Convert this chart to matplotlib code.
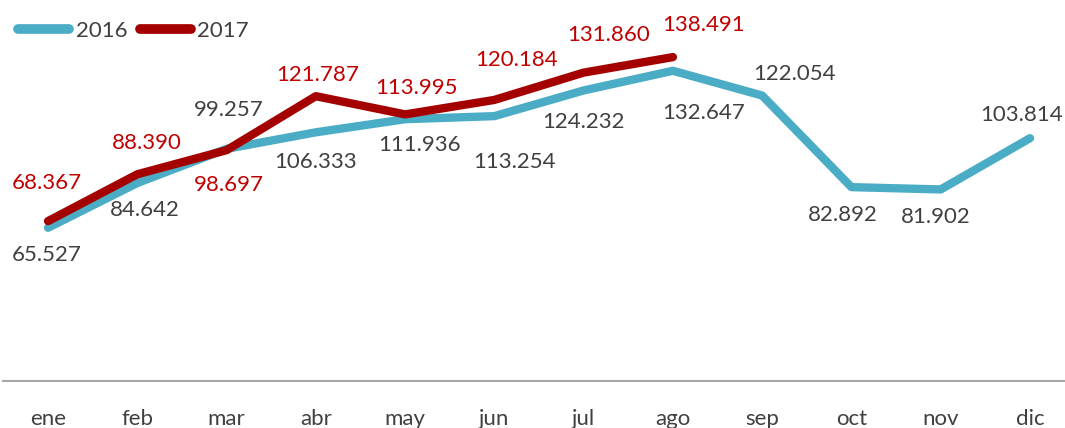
import matplotlib.pyplot as plt
from matplotlib.lines import Line2D

months = ['ene', 'feb', 'mar', 'abr', 'may', 'jun', 'jul', 'ago', 'sep', 'oct', 'nov', 'dic']
v2016 = [65.527, 84.642, 99.257, 106.333, 111.936, 113.254, 124.232, 132.647, 122.054, 82.892, 81.902, 103.814]
v2017 = [68.367, 88.390, 98.697, 121.787, 113.995, 120.184, 131.860, 138.491]

# label offsets in pixels (dx, dy up)
off2016 = [(-1, -27), (8, -27), (2, 39), (0, -30), (14, -26), (20, -46),
           (0, -32), (31, -42), (32, 22), (-9, -28), (-5, -28), (-8, 23)]
off2017 = [(-1, 38), (10, 31), (2, -35), (2, 21), (11, 26), (22, 40), (25, 38), (31, 32)]

blue = '#4BACC6'
red = '#A50000'
plt.rcParams['font.family'] = ['Lato', 'DejaVu Sans']

fig = plt.figure(figsize=(10.65, 4.28), dpi=100)
ax = fig.add_axes([3.4 / 1065, 47 / 428, 1071.2 / 1065, 374.2 / 428])

x16 = list(range(len(v2016)))
x17 = list(range(len(v2017)))
ax.plot(x16, v2016, color=blue, lw=6, solid_capstyle='round', solid_joinstyle='round', zorder=2)
ax.plot(x17, v2017, color=red, lw=6, solid_capstyle='round', solid_joinstyle='round', zorder=3)

for i, v in enumerate(v2016):
    ax.annotate(f'{v:.3f}', (i, v), xytext=off2016[i], textcoords='offset pixels',
                ha='center', va='center', fontsize=16, color='#404040')
for i, v in enumerate(v2017):
    ax.annotate(f'{v:.3f}', (i, v), xytext=off2017[i], textcoords='offset pixels',
                ha='center', va='center', fontsize=16, color='#C00000')

ax.set_xlim(-0.5, 11.5)
ax.set_ylim(0, 160)
ax.set_xticks(x16)
ax.set_xticklabels(months, fontsize=16, color='#404040')
ax.tick_params(axis='x', length=0, pad=20)
ax.set_yticks([])
for s in ['top', 'right', 'left']:
    ax.spines[s].set_visible(False)
ax.spines['bottom'].set_color('#A6A6A6')
ax.spines['bottom'].set_linewidth(1.5)

handles = [Line2D([], [], color=blue, lw=7, solid_capstyle='round'),
           Line2D([], [], color=red, lw=7, solid_capstyle='round')]
fig.legend(handles, ['2016', '2017'], loc='center left', bbox_to_anchor=(18 / 1065, 1 - 31 / 428),
           ncol=2, frameon=False, fontsize=16, handlelength=2.3, handletextpad=0.3,
           columnspacing=0.55, labelcolor='#404040', borderaxespad=0, borderpad=0)

fig.savefig('out.png', dpi=100)
